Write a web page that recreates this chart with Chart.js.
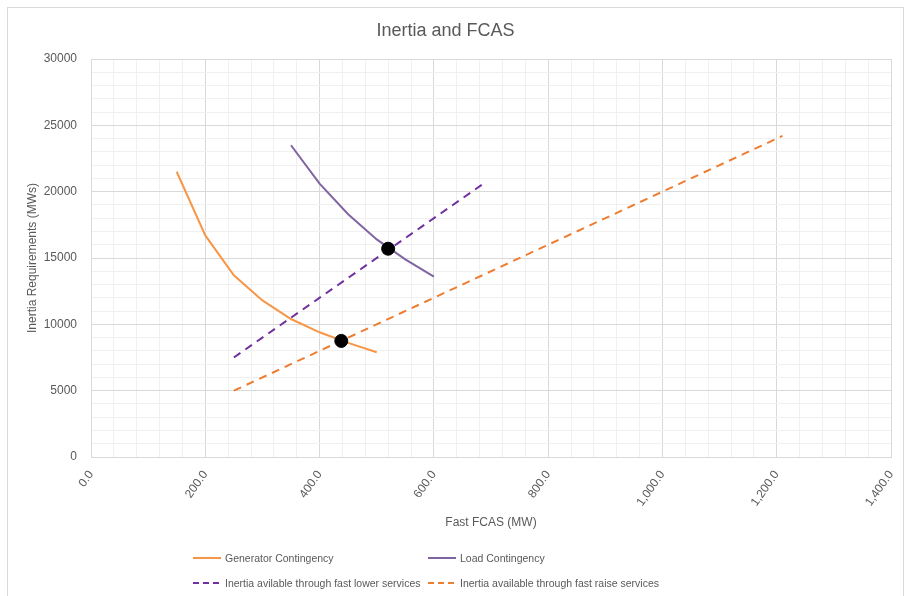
<!DOCTYPE html>
<html>
<head>
<meta charset="utf-8">
<script src="https://cdn.jsdelivr.net/npm/chart.js@4.4.1/dist/chart.umd.min.js"></script>
<style>
 html, body { margin:0; padding:0; background:#fff; }
 #wrap { position:relative; width:906px; height:596px; overflow:hidden; }
 #frame { position:absolute; left:7px; top:7px; width:897px; height:600px; border:1px solid #d9d9d9; box-sizing:border-box; }
 canvas { position:absolute; left:0; top:0; }
 .leg { position:absolute; font-family:"Liberation Sans",Arial,sans-serif; font-size:10.5px; color:#595959; white-space:nowrap; line-height:16px; }
 .leg i { display:inline-block; width:28px; height:2px; vertical-align:middle; margin-right:4px; position:relative; top:-1px; }
</style>
</head>
<body>
<div id="wrap">
 <div id="frame"></div>
 <canvas id="myChart" width="906" height="596"></canvas>
</div>
<script>
'use strict';

// Generator contingency curve
var genX = [150, 200, 250, 300, 350, 400, 450, 500];
var genInertia = [21500, 16700, 13700, 11800, 10400, 9400, 8600, 7900];
// Load contingency curve
var loadX = [350, 400, 450, 500, 550, 600];
var loadInertia = [23500, 20600, 18300, 16400, 14900, 13600];
// inertia available lines
var lowerX = [250, 690];
var lowerInertia = [7500, 20700];
var raiseX = [250, 1210];
var raiseInertia = [5000, 24200];
// crossing points
var crossX = [438, 520];
var crossInertia = [8750, 15700];

var xTickValues = [0, 200, 400, 600, 800, 1000, 1200, 1400];
var yTickValues = [0, 5000, 10000, 15000, 20000, 25000, 30000];

var labels = ['Generator Contingency', 'Load Contingency',
 'Inertia avilable through fast lower services', 'Inertia available through fast raise services'];

function pts(xs, ys) {
 return xs.map(function (x, i) { return { x: x, y: ys[i] }; });
}

var FONT = '"Liberation Sans",Arial,sans-serif';
var TXT = '#595959';

var ctx = document.getElementById('myChart');
var datasets = [
 { label: 'cross', data: pts(crossX, crossInertia), showLine: false, pointRadius: 6.5,
   pointBackgroundColor: '#000', pointBorderColor: '#000', order: 0 },
 { label: labels[0], data: pts(genX, genInertia), showLine: true, borderColor: '#f79646',
   borderWidth: 2, pointRadius: 0, order: 2 },
 { label: labels[1], data: pts(loadX, loadInertia), showLine: true, borderColor: '#8064a2',
   borderWidth: 2, pointRadius: 0, order: 2 },
 { label: labels[2], data: pts(lowerX, lowerInertia), showLine: true, borderColor: '#7030a0',
   borderWidth: 2, borderDash: [8, 6], pointRadius: 0, order: 3 },
 { label: labels[3], data: pts(raiseX, raiseInertia), showLine: true, borderColor: '#ed7d31',
   borderWidth: 2, borderDash: [8, 6], pointRadius: 0, order: 3 }
];

var chart = new Chart(ctx, {
 type: 'scatter',
 data: { datasets: datasets },
 options: {
  responsive: false,
  animation: false,
  layout: { padding: { left: 0, right: 15, top: 0, bottom: 66 } },
  plugins: {
   legend: { display: false },
   tooltip: { enabled: false },
   title: { display: true, text: 'Inertia and FCAS', color: TXT,
    font: { family: FONT, size: 18, weight: 'normal' }, padding: { top: 20, bottom: 17.4 } }
  },
  scales: {
   x: {
    type: 'linear', min: 0, max: 1400,
    afterFit: function (s) { s.height = 73; s.paddingLeft = 0; s.paddingRight = 0; },
    ticks: { stepSize: 40, autoSkip: false, minRotation: 55, maxRotation: 55, padding: 11,
     color: TXT, font: { family: FONT, size: 12 },
     callback: function (v) {
      return xTickValues.indexOf(v) >= 0 ? v.toLocaleString('en-US', { minimumFractionDigits: 1, maximumFractionDigits: 1 }) : '';
     } },
    grid: { drawTicks: false, color: function (c) { return c.tick && xTickValues.indexOf(c.tick.value) >= 0 ? '#d9d9d9' : '#f0f0f0'; } },
    border: { color: '#d9d9d9' },
    title: { display: true, text: 'Fast FCAS (MW)', color: TXT, font: { family: FONT, size: 12 }, padding: { top: 0, bottom: 0 } }
   },
   y: {
    min: 0, max: 30000,
    afterFit: function (s) { s.width = 91; s.paddingTop = 0; s.paddingBottom = 0; },
    ticks: { stepSize: 1000, autoSkip: false, padding: 14, color: TXT, font: { family: FONT, size: 12 },
     callback: function (v) { return yTickValues.indexOf(v) >= 0 ? String(v) : ''; } },
    grid: { drawTicks: false, color: function (c) { return c.tick && yTickValues.indexOf(c.tick.value) >= 0 ? '#d9d9d9' : '#f0f0f0'; } },
    border: { color: '#d9d9d9' },
    title: { display: true, text: 'Inertia Requirements (MWs)', color: TXT, font: { family: FONT, size: 12 }, padding: { top: 25, bottom: 0 } }
   }
  }
 }
});

// legend, two columns like the original
var wrap = document.getElementById('wrap');
var legPos = [[193, 550], [428, 550], [193, 575], [428, 575]];
datasets.slice(1).forEach(function (ds, i) {
 var d = document.createElement('div');
 d.className = 'leg';
 d.style.left = legPos[i][0] + 'px';
 d.style.top = legPos[i][1] + 'px';
 var bg = ds.borderDash
  ? 'repeating-linear-gradient(to right,' + ds.borderColor + ' 0 6px, transparent 6px 10px)'
  : ds.borderColor;
 d.innerHTML = '<i style="background:' + bg + '"></i>' + ds.label;
 wrap.append(d);
});
</script>
</body>
</html>
